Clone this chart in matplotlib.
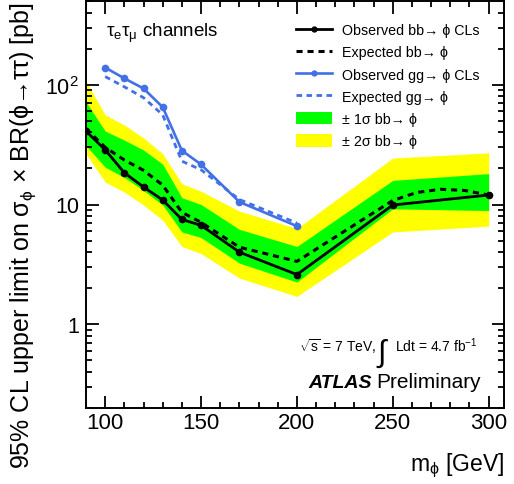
import matplotlib
matplotlib.use("Agg")
import matplotlib.pyplot as plt
from matplotlib.lines import Line2D
from matplotlib.patches import Patch
from matplotlib.ticker import FixedLocator, NullFormatter, FuncFormatter

plt.rcParams['font.family'] = ['Liberation Sans', 'DejaVu Sans']
plt.rcParams['mathtext.fontset'] = 'custom'
plt.rcParams['mathtext.rm'] = 'Liberation Sans'
plt.rcParams['mathtext.it'] = 'Liberation Sans:italic'
plt.rcParams['mathtext.bf'] = 'Liberation Sans:bold'

# bb -> phi limits (pb)
mass_bb = [90, 100, 110, 120, 130, 140, 150, 170, 200, 250, 300]
obs_bb = [41, 28.6, 18.4, 14.0, 10.9, 7.5, 6.7, 4.0, 2.6, 9.9, 12.0]
band2_hi = [107, 56, 46, 36, 26.5, 14.9, 12.9, 8.8, 6.3, 24.4, 27.0]
band1_hi = [72, 41, 34.5, 28.5, 21.7, 11.4, 10.0, 6.2, 4.46, 15.9, 18.1]
band1_lo = [31, 20.5, 16.8, 13.1, 9.9, 5.9, 5.3, 3.24, 2.25, 9.2, 8.9]
band2_lo = [26.5, 15.4, 12.7, 9.9, 7.4, 4.46, 3.9, 2.43, 1.71, 5.9, 6.6]

mass_exp_bb = [90, 100, 110, 120, 130, 140, 150, 170, 200, 250, 262.5, 275, 287.5, 300]
exp_bb = [43, 30, 23.5, 19.3, 14.5, 8.6, 7.1, 4.4, 3.35, 10.8, 12.6, 13.4, 13.1, 12.0]

# gg -> phi limits (pb)
mass_gg = [100, 110, 120, 130, 140, 150, 170, 200]
obs_gg = [139, 113, 93, 65, 28.2, 21.6, 10.5, 6.6]
exp_gg = [117, 96, 78, 56, 23, 19.5, 11.0, 7.0]

blue = '#4270e6'

fig = plt.figure(figsize=(5.14, 4.85), dpi=100)
ax = fig.add_axes([86/514, 1 - 409/485, 418/514, 407/485])

ax.fill_between(mass_bb, band2_lo, band2_hi, color='#ffff00', lw=0)
ax.fill_between(mass_bb, band1_lo, band1_hi, color='#00ff00', lw=0)
ax.plot(mass_exp_bb, exp_bb, color='black', lw=2.2, ls=(0, (2, 1.6)))
ax.plot(mass_bb, obs_bb, color='black', lw=2.0, marker='o', ms=4.5)
ax.plot(mass_gg, exp_gg, color=blue, lw=2.0, ls=(0, (2, 1.6)))
ax.plot(mass_gg, obs_gg, color=blue, lw=1.9, marker='o', ms=4.5)

ax.set_yscale('log')
ax.set_xlim(90, 308)
ax.set_ylim(0.2, 500)

ax.xaxis.set_major_locator(FixedLocator([100, 150, 200, 250, 300]))
ax.xaxis.set_minor_locator(FixedLocator(range(90, 310, 10)))
ax.yaxis.set_major_locator(FixedLocator([1, 10, 100]))
ax.yaxis.set_minor_locator(FixedLocator(
    [m * 10.0 ** e for e in (-1, 0, 1, 2) for m in range(2, 10)]))
ax.yaxis.set_minor_formatter(NullFormatter())
ax.yaxis.set_major_formatter(FuncFormatter(
    lambda v, p: {1: '1', 10: '10', 100: r'$\mathregular{10^2}$'}.get(int(round(v)), '')))

ax.tick_params(which='both', direction='in', top=True, right=True, width=1.3)
ax.tick_params(which='major', length=9)
ax.tick_params(which='minor', length=4.5)
ax.tick_params(axis='x', labelsize=16, pad=3)
ax.tick_params(axis='y', labelsize=15.5, pad=5)
for s in ax.spines.values():
    s.set_linewidth(1.4)

ax.set_xlabel(r'm$_{\mathregular{\phi}}$ [GeV]', fontsize=16.5, loc='right')
ax.xaxis.set_label_coords(1.0, -0.105)
ax.set_ylabel(r'95% CL upper limit on $\mathregular{\sigma_{\phi}}$ × BR($\mathregular{\phi}$→ττ) [pb]',
              fontsize=18, loc='top')
ax.yaxis.set_label_coords(-0.115, 1.0)

fig.text(106/514, 1 - 37/485, r'$\mathregular{\tau_{e}\tau_{\mu}}$ channels', fontsize=13.5)

handles = [
    Line2D([], [], color='black', lw=2.0, marker='o', ms=3.5),
    Line2D([], [], color='black', lw=2.2, ls=(0, (2, 1.6))),
    Line2D([], [], color=blue, lw=1.9, marker='o', ms=3.5),
    Line2D([], [], color=blue, lw=2.0, ls=(0, (2, 1.6))),
    Patch(facecolor='#00ff00', edgecolor='none'),
    Patch(facecolor='#ffff00', edgecolor='none'),
]
labels = [
    'Observed bb→ ϕ CLs',
    'Expected bb→ ϕ',
    'Observed gg→ ϕ CLs',
    'Expected gg→ ϕ',
    '± 1σ bb→ ϕ',
    '± 2σ bb→ ϕ',
]
fig.legend(handles, labels, loc='upper left', bbox_to_anchor=(296/514, 1 - 24/485),
           frameon=False, fontsize=10.3, handlelength=2.5, handleheight=1.0,
           handletextpad=0.75, labelspacing=0.55, borderpad=0, borderaxespad=0)

fig.text(299/514, 1 - 352/485, r'$\mathregular{\sqrt{s}}$ = 7 TeV,', fontsize=10)
fig.text(377/514, 1 - 362/485, '∫', fontsize=22)
fig.text(395/514, 1 - 352/485, r'Ldt = 4.7 fb$^{\mathregular{-1}}$', fontsize=10)
fig.text(308/514, 1 - 388/485, 'ATLAS', fontsize=14, fontweight='bold', fontstyle='italic')
fig.text(481/514, 1 - 388/485, 'Preliminary', fontsize=15, ha='right')

fig.savefig('out.png', dpi=100)
